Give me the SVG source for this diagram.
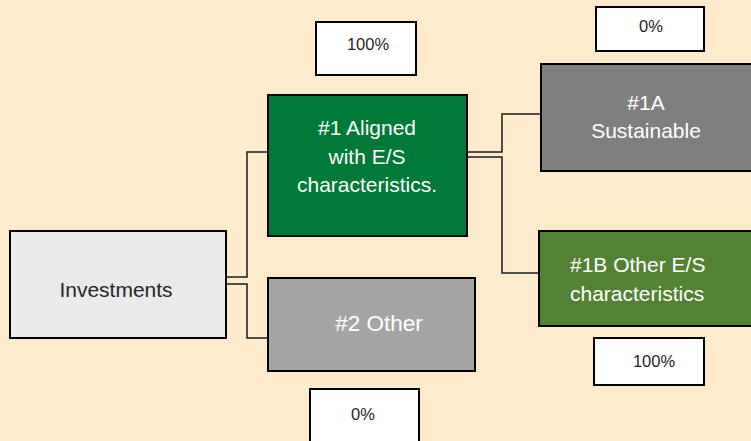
<svg xmlns="http://www.w3.org/2000/svg" width="751" height="441" viewBox="0 0 751 441">
<style>
.box{stroke:#000;stroke-width:2}
.pct{fill:#fff;stroke:#000;stroke-width:2}
.t{font-family:"Liberation Sans",Arial,sans-serif;font-size:21px;text-anchor:middle}
.w{fill:#fff}
.d{fill:#262626}
.p{font-family:"Liberation Sans",Arial,sans-serif;font-size:16.5px;text-anchor:middle;fill:#262626}
.c{fill:none;stroke:#1a1a1a;stroke-width:1.5}
</style>
<rect width="751" height="441" fill="#FEEBCC"/>
<g id="connectors">
<polyline class="c" points="226,277 247,277 247,152 268,152"/>
<polyline class="c" points="226,284 247,284 247,338 268,338"/>
<polyline class="c" points="467,152 502,152 502,114 541,114"/>
<polyline class="c" points="467,157 502,157 502,273 539,273"/>
</g>
<g id="investments">
<rect class="box" x="10" y="231" width="216" height="107" fill="#EAEAEA"/>
<text class="t d" x="116" y="297">Investments</text>
</g>
<g id="aligned">
<rect class="box" x="268" y="95" width="199" height="141" fill="#007A36"/>
<text class="t w" x="367" y="135">#1 Aligned</text>
<text class="t w" x="367" y="164">with E/S</text>
<text class="t w" x="367" y="192">characteristics.</text>
</g>
<g id="other">
<rect class="box" x="268" y="278" width="207" height="93" fill="#A5A5A5"/>
<text class="t w" x="379" y="331" style="font-size:22.5px">#2 Other</text>
</g>
<g id="sustainable">
<rect class="box" x="541" y="64" width="215" height="107" fill="#7F7F7F"/>
<text class="t w" x="646" y="110">#1A</text>
<text class="t w" x="646" y="138">Sustainable</text>
</g>
<g id="other-es">
<rect class="box" x="539" y="231" width="217" height="95" fill="#548235"/>
<text class="t w" x="570" y="272" style="text-anchor:start">#1B Other E/S</text>
<text class="t w" x="570" y="301" style="text-anchor:start">characteristics</text>
</g>
<g id="pct-aligned">
<rect class="pct" x="316" y="22" width="100" height="53"/>
<text class="p" x="368" y="50">100%</text>
</g>
<g id="pct-sustainable">
<rect class="pct" x="596" y="7" width="108" height="44"/>
<text class="p" x="651" y="32">0%</text>
</g>
<g id="pct-other-es">
<rect class="pct" x="594" y="338" width="110" height="47"/>
<text class="p" x="654" y="367">100%</text>
</g>
<g id="pct-other">
<rect class="pct" x="310" y="389" width="109" height="60"/>
<text class="p" x="363" y="420">0%</text>
</g>
</svg>
